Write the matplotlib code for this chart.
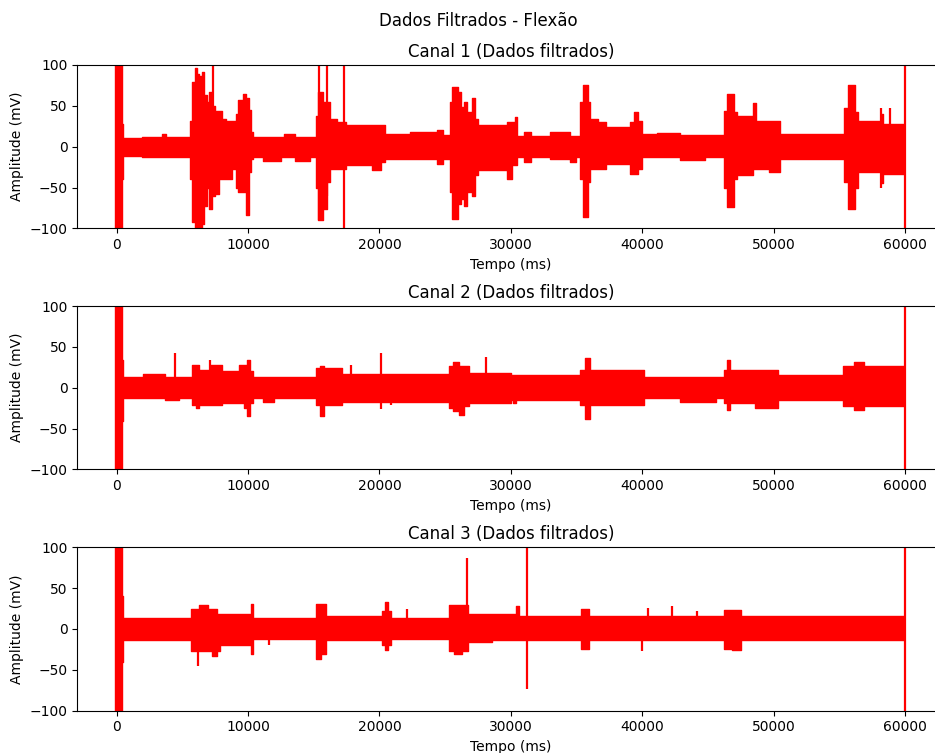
import matplotlib
matplotlib.use("Agg")
import matplotlib.pyplot as plt

# ---- data: envelope knots (time ms, upper mV, lower mV) ----
titles = ["Canal 1 (Dados filtrados)", "Canal 2 (Dados filtrados)", "Canal 3 (Dados filtrados)"]

ch1_t = [-100, 400, 450, 550, 3300, 3600, 3900, 5500, 5600, 5850, 6050, 6200, 6400, 6550, 6700, 7000,
         7100, 7400, 7600, 7900, 8100, 8600, 9000, 9150, 9300, 9500, 9770, 9950, 10150, 10300, 10400,
         11900, 12400, 12600, 12900, 14300, 15100, 15250, 15400, 15600, 15850, 16100, 16350, 17200,
         17700, 19300, 19600, 20000, 20300, 20500, 24100, 24700, 24900, 25300, 25450, 25650, 25900,
         26100, 26300, 26500, 26850, 27200, 27400, 27600, 29500, 29900, 30200, 30400, 30600, 31400,
         31600, 34300, 34700, 35200, 35400, 35550, 35800, 35950, 36100, 37150, 37400, 38900, 39200,
         39550, 39800, 40100, 42200, 43500, 46100, 46300, 46600, 46850, 47100, 47300, 48300, 48500,
         48850, 50400, 50600, 55200, 55500, 55850, 56100, 56350, 56500, 58100, 58200, 58500, 59950]
ch1_hi = [250, 250, 28, 11, 12, 15, 12, 12, 32, 79, 96, 89, 87, 91, 63, 55,
          67, 50, 44, 44, 34, 31, 31, 40, 57, 57, 65, 60, 45, 18, 12,
          12, 12, 12, 16, 12, 12, 38, 67, 67, 55, 55, 34, 30,
          27, 27, 27, 27, 27, 16, 18, 20, 14, 14, 55, 73, 73,
          67, 49, 55, 42, 59, 34, 26, 26, 30, 30, 36, 13, 18,
          13, 18, 13, 13, 55, 75, 75, 55, 34, 30, 24, 24, 30,
          42, 32, 16, 17, 14, 14, 44, 65, 65, 42, 38, 38, 53,
          32, 32, 16, 16, 47, 75, 75, 42, 32, 32, 40, 28, 28]
ch1_lo = [-250, -250, -40, -11, -12, -12, -12, -12, -39, -92, -100, -100, -100, -95, -72, -51,
          -76, -60, -58, -39, -39, -39, -27, -51, -55, -55, -55, -84, -31, -15, -12,
          -18, -18, -12, -12, -17, -12, -51, -90, -90, -76, -43, -27, -27,
          -23, -23, -29, -29, -19, -15, -15, -21, -15, -15, -55, -88, -88,
          -70, -64, -72, -55, -60, -35, -29, -29, -39, -23, -23, -13, -19,
          -13, -15, -19, -13, -39, -86, -86, -43, -27, -27, -21, -21, -33,
          -33, -27, -13, -13, -16, -13, -51, -74, -74, -39, -35, -35, -27,
          -27, -31, -15, -15, -43, -76, -76, -51, -31, -31, -45, -33, -33]
ch1_spk_t = [7300, 15400, 16000, 17300, 58200, 58850, 60000]
ch1_spk_hi = [250, 250, 250, 250, 47, 47, 250]
ch1_spk_lo = [-60, -90, -60, -250, -51, -33, -250]

ch2_t = [-100, 400, 450, 550, 3400, 3950, 5600, 5850, 6200, 6350, 7900, 8100, 9100, 9450, 9900, 10000,
         10300, 10400, 11900, 12100, 15100, 15200, 15700, 15900, 17100, 17200, 25200, 25400, 25850,
         26200, 26700, 27000, 29900, 30100, 30300, 30500, 35200, 35400, 35900, 36100, 40100, 40200,
         45500, 45700, 46100, 46300, 46600, 46800, 50300, 50400, 55200, 55400, 56800, 57000, 59950]
ch2_hi = [250, 250, 34, 13, 17, 13, 13, 28, 28, 22, 28, 20, 20, 28, 28, 34,
          20, 13, 13, 13, 13, 24, 26, 24, 24, 17, 17, 26, 32,
          26, 26, 18, 18, 16, 16, 16, 16, 22, 36, 22, 22, 13,
          13, 13, 13, 22, 34, 22, 22, 16, 16, 26, 32, 26, 26]
ch2_lo = [-250, -250, -41, -13, -13, -15, -13, -21, -25, -21, -21, -19, -19, -19, -25, -35,
          -19, -13, -17, -13, -13, -21, -35, -21, -21, -17, -17, -25, -29,
          -33, -22, -19, -19, -15, -19, -15, -15, -21, -38, -21, -21, -13,
          -17, -13, -13, -19, -27, -19, -25, -15, -15, -23, -27, -23, -23]
ch2_spk_t = [4450, 7100, 17800, 20100, 20850, 28100, 60000]
ch2_spk_hi = [43, 34, 28, 42, 17, 38, 250]
ch2_spk_lo = [-13, -21, -17, -26, -21, -19, -250]

ch3_t = [-100, 400, 450, 550, 5600, 5750, 6850, 7000, 7550, 7700, 8000, 10100, 10300, 10450, 15100,
         15300, 15800, 16100, 20100, 20300, 20500, 20800, 21000, 25200, 25400, 26000, 26600, 26900,
         30300, 30500, 30700, 35300, 35450, 35750, 36100, 46100, 46300, 47300, 47800, 59950]
ch3_hi = [250, 250, 41, 14, 14, 24, 29, 24, 24, 18, 18, 18, 30, 14, 14,
          31, 31, 16, 16, 22, 33, 22, 14, 14, 29, 29, 29, 18,
          18, 28, 16, 16, 24, 24, 16, 16, 23, 23, 16, 16]
ch3_lo = [-250, -250, -41, -13, -13, -27, -27, -27, -33, -27, -20, -20, -30, -12, -12,
          -37, -30, -14, -14, -20, -26, -20, -12, -12, -27, -31, -27, -16,
          -14, -14, -14, -14, -24, -24, -13, -13, -24, -26, -14, -14]
ch3_spk_t = [6150, 11600, 22100, 26700, 31250, 40000, 40450, 42250, 44200, 60000]
ch3_spk_hi = [24, 14, 25, 87, 250, 16, 26, 28, 22, 250]
ch3_spk_lo = [-45, -20, -12, -16, -74, -27, -13, -13, -13, -250]

channels = [
    (ch1_t, ch1_hi, ch1_lo, ch1_spk_t, ch1_spk_hi, ch1_spk_lo),
    (ch2_t, ch2_hi, ch2_lo, ch2_spk_t, ch2_spk_hi, ch2_spk_lo),
    (ch3_t, ch3_hi, ch3_lo, ch3_spk_t, ch3_spk_hi, ch3_spk_lo),
]

W, H = 935, 753
fig = plt.figure(figsize=(W / 100, H / 100), dpi=100)
left = 77.3 / W
width = (944.4 - 77.3) / W
tops = [65, 306, 547.3]
ah = 163.4

for i, (t, hi, lo, st, shi, slo) in enumerate(channels):
    ax = fig.add_axes([left, 1 - (tops[i] + ah) / H, width, ah / H])
    ax.fill_between(t, lo, hi, step="mid", color="red", linewidth=1.0, edgecolor="red")
    ax.vlines(st, slo, shi, color="red", linewidth=1.6)
    ax.set_xlim(-3000, 63000)
    ax.set_ylim(-100, 100)
    ax.set_xticks([0, 10000, 20000, 30000, 40000, 50000, 60000])
    ax.set_yticks([-100, -50, 0, 50, 100])
    ax.set_title(titles[i], fontsize=12)
    ax.set_xlabel("Tempo (ms)")
    ax.set_ylabel("Amplitude (mV)")

fig.text(478.5 / W, 1 - 26 / H, "Dados Filtrados - Flexão", ha="center", va="baseline", fontsize=12)

fig.savefig("out.png", dpi=100)
